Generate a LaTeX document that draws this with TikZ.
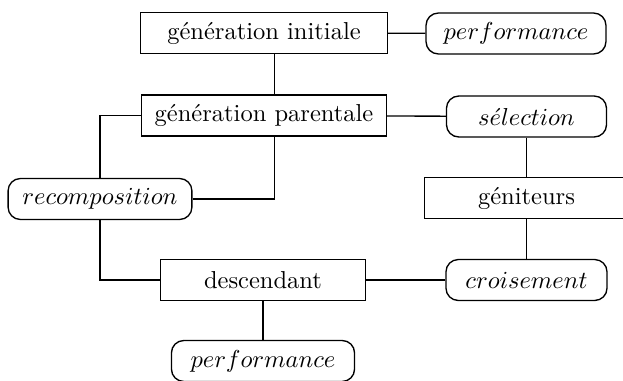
\documentclass[tikz,border=0pt]{standalone}
\begin{document}
\begin{tikzpicture}[x=0.408pt,y=-0.408pt,line width=0.55pt,
    etat/.style={draw,rectangle,minimum height=16.7pt,inner sep=0pt},
    oper/.style={draw,rounded corners=5pt,minimum height=16.7pt,inner sep=0pt}]
    \useasboundingbox (0,0) rectangle (623,381);

    \node[etat,minimum width=100.8pt] (init) at (264,33) {génération initiale};
    \node[oper,minimum width=73.4pt] (perf1) at (516,33.5) {$performance$};
    \node[etat,minimum width=100pt] (par) at (264,115.5) {génération parentale};
    \node[oper,minimum width=65.3pt] (sel) at (526.5,116.5) {$s\acute{e}lection$};
    \node[etat,minimum width=83.2pt] (gen) at (526.5,198) {géniteurs};
    \node[oper,minimum width=75pt] (reco) at (100,199) {$recomposition$};
    \node[etat,minimum width=83.6pt] (desc) at (263,280) {descendant};
    \node[oper,minimum width=65.7pt] (cro) at (526.5,280) {$croisement$};
    \node[oper,minimum width=74.7pt] (perf2) at (263,361) {$performance$};

    \draw (init) -- (perf1);
    \draw ([xshift=4.3pt]init.south) -- ([xshift=4.3pt]par.north);
    \draw (par) -- (sel);
    \draw (sel) -- (gen) -- (cro);
    \draw (cro) -- (desc);
    \draw (desc) -- (perf2);
    \draw (par.west) -| (reco.north);
    \draw (reco.south) |- (desc.west);
    \draw (reco.east) -| ([xshift=4.3pt]par.south);
\end{tikzpicture}
\end{document}
